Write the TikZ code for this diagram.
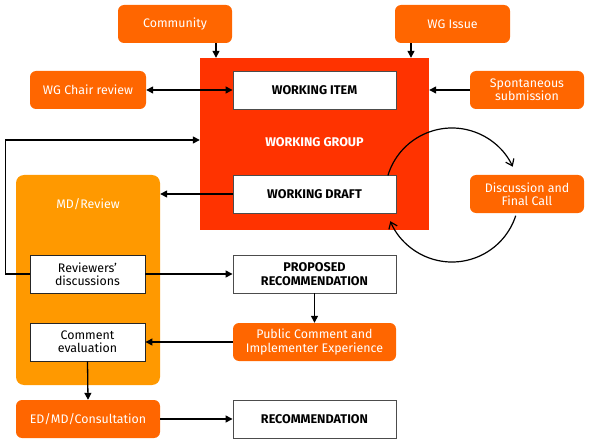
\documentclass[tikz,border=0pt]{standalone}
\usepackage{fontspec}
\setmainfont{Fira Sans}
\usetikzlibrary{arrows.meta}
\definecolor{orng}{HTML}{FF6600}
\definecolor{wgred}{HTML}{FF3300}
\definecolor{mdor}{HTML}{FF9900}
\begin{document}
\begin{tikzpicture}[x=1pt,y=-1pt,
  txt/.style={font=\fontsize{12.4}{13.4}\selectfont, align=center, inner sep=0pt},
  orangebox/.style={txt, fill=orng, rounded corners=6pt, text=white, minimum width=115pt, minimum height=38pt},
  whitebox/.style={txt, fill=white, draw=black!70, line width=0.9pt, minimum width=163pt, minimum height=38pt, font=\fontsize{12.6}{13.4}\selectfont\bfseries},
  smallbox/.style={txt, fill=white, draw=black!85, line width=0.9pt, minimum width=115pt, minimum height=38pt},
  arr/.style={line width=1.3pt, -{Triangle[length=7pt,width=7pt]}},
  darr/.style={line width=1.3pt, {Triangle[length=7pt,width=7pt]}-{Triangle[length=7pt,width=7pt]}},
  circarr/.style={line width=1.2pt, -{Straight Barb[length=6pt,width=9pt]}}
]
\useasboundingbox (0,0) rectangle (590,444);
% containers
\node[fill=wgred, minimum width=229pt, minimum height=172pt, inner sep=0pt] (wg) at (314.5,144) {};
\node[txt, text=white, font=\fontsize{12.6}{13.4}\selectfont\bfseries] (wglabel) at (314.5,142) {WORKING GROUP};
\node[fill=mdor, rounded corners=8pt, minimum width=144pt, minimum height=210pt, inner sep=0pt] (md) at (88,280) {};
\node[txt, text=white] (mdlabel) at (88,204) {MD/Review};
% orange boxes
\node[orangebox, minimum width=114pt] (comm) at (175,24) {Community};
\node[orangebox] (wgi) at (452.5,24) {WG Issue};
\node[orangebox, minimum width=116pt] (chair) at (88,90) {WG Chair review};
\node[orangebox, minimum width=114pt] (spont) at (527,90) {Spontaneous\\submission};
\node[orangebox, minimum width=114pt] (disc) at (527,194) {Discussion and\\Final Call};
\node[orangebox, minimum width=163pt] (pub) at (314.5,342) {Public Comment and\\Implementer Experience};
\node[orangebox, minimum width=144pt] (ed) at (88,419) {ED/MD/Consultation};
% white boxes
\node[whitebox] (item) at (314.5,90) {WORKING ITEM};
\node[whitebox] (draft) at (314.5,194) {WORKING DRAFT};
\node[whitebox] (prop) at (314.5,274) {PROPOSED\\RECOMMENDATION};
\node[whitebox] (rec) at (314.5,419) {RECOMMENDATION};
\node[smallbox] (rev) at (87.5,274) {Reviewers'\\discussions};
\node[smallbox] (ceval) at (87.5,342) {Comment\\evaluation};
% connectors
\draw[arr] ([xshift=41pt]comm.south) -- ([xshift=41pt]comm.south |- wg.north);
\draw[arr] ([xshift=-41.5pt]wgi.south) -- ([xshift=-41.5pt]wgi.south |- wg.north);
\draw[darr] (chair.east) -- (item.west);
\draw[arr] (spont.west) -- (spont.west -| wg.east);
\draw[arr] (rev.west) -- ++(-24,0) |- ([yshift=4pt]wg.west);
\draw[arr] (draft.west) -- (draft.west -| md.east);
\draw[arr] (rev.east) -- (prop.west);
\draw[arr] (prop.south) -- (pub.north);
\draw[arr] (pub.west) -- (ceval.east);
\draw[arr] (ceval.south) -- (ed.north);
\draw[arr] (ed.east) -- (rec.west);
% discussion cycle
\coordinate (cc) at (452,195);
\draw[circarr] (cc) ++(163:67pt) arc[start angle=163, end angle=25, radius=67pt];
\draw[circarr] (cc) ++(-18:67pt) arc[start angle=-18, end angle=-157, radius=67pt];
\end{tikzpicture}
\end{document}
